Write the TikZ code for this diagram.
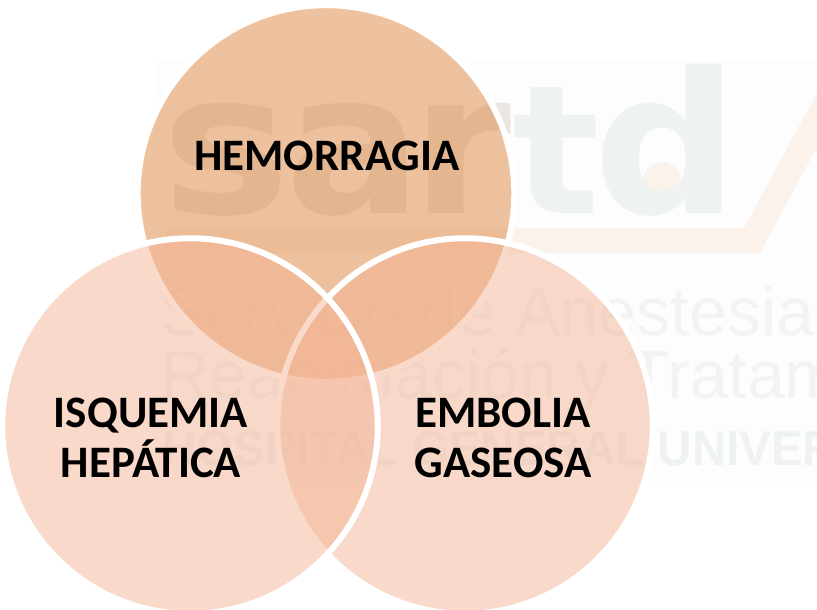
\documentclass[tikz,border=0pt]{standalone}
\usepackage{fontspec}
\setmainfont{Carlito}
\newfontfamily\wmsans{Liberation Sans}
\newfontfamily\wmbold{DejaVu Sans Bold}
\definecolor{topfill}{HTML}{DF8741}
\definecolor{sidefill}{HTML}{F4B596}
\definecolor{wmback}{HTML}{FDFDFD}
\definecolor{wmteal}{HTML}{EEF3F2}
\definecolor{wmbeige}{HTML}{FBF2EC}
\definecolor{wmgray}{HTML}{F3F3F2}
\definecolor{wmdark}{HTML}{EAE6E1}
\tikzset{
  topcircle/.style={circle,fill=topfill,fill opacity=.5,draw=white,draw opacity=1,line width=6pt,minimum size=376.6pt,inner sep=0pt,outer sep=0pt},
  sidecircle/.style={circle,fill=sidefill,fill opacity=.5,draw=white,draw opacity=1,line width=6pt,minimum size=375.5pt,inner sep=0pt,outer sep=0pt},
  lab/.style={font=\fontsize{45}{50}\selectfont\bfseries,text=black,align=center,inner sep=0pt},
  logoletter/.style={font=\fontsize{197}{197}\selectfont\wmbold,inner sep=0pt,anchor=base west},
  wmline/.style={font=\fontsize{68}{68}\selectfont\wmsans,text=wmgray,inner sep=0pt,anchor=base west},
  wmhosp/.style={font=\fontsize{49}{49}\selectfont\wmsans\bfseries,text=wmteal,inner sep=0pt,anchor=base west,xscale=.97},
}
\begin{document}
\begin{tikzpicture}[x=1pt,y=-1pt]
\useasboundingbox (0,0) rectangle (817,610);
\fill[white] (0,0) rectangle (817,610);
\begin{scope}
\clip (0,0) rectangle (817,610);
\fill[wmback] (155,60) rectangle (817,482);
% logo
\fill[wmbeige] (817,93) -- (744,228) -- (172,228) to[out=180,in=-90] (162,240) to[out=90,in=180] (172,253) -- (760,253) -- (817,147) -- cycle;
\fill[wmbeige] (662,182) ellipse (19 and 20);
\node[logoletter,text=wmdark,xscale=1.1] (ls) at (161,213) {s};
\node[logoletter,text=wmdark,xscale=1.03] (la) at (285,213) {a};
\node[logoletter,text=wmdark,xscale=1.03] (lr) at (411,213) {r};
\node[logoletter,text=wmteal,xscale=.93,yscale=.91] (lt) at (512,213) {t};
\node[logoletter,text=wmteal,xscale=1.03] (ld) at (593,213) {d};
% wordmark
\node[wmline] (w1) at (160,335) {Servicio de Anestesia};
\node[wmline] (w2) at (160,398) {Reanimación y Tratam};
\node[wmhosp] (w3) at (162,465) {HOSPITAL GENERAL UNIVER};
% circles
\node[topcircle] (ctop) at (326,193.5) {};
\node[sidecircle] (cright) at (465,426) {};
\node[sidecircle] (cleft) at (190,426) {};
\end{scope}
% labels
\node[lab] (hem) at (327,156) {HEMORRAGIA};
\node[lab] (isq) at (151,438) {ISQUEMIA\\HEPÁTICA};
\node[lab] (emb) at (503,438) {EMBOLIA\\GASEOSA};
\end{tikzpicture}
\end{document}
